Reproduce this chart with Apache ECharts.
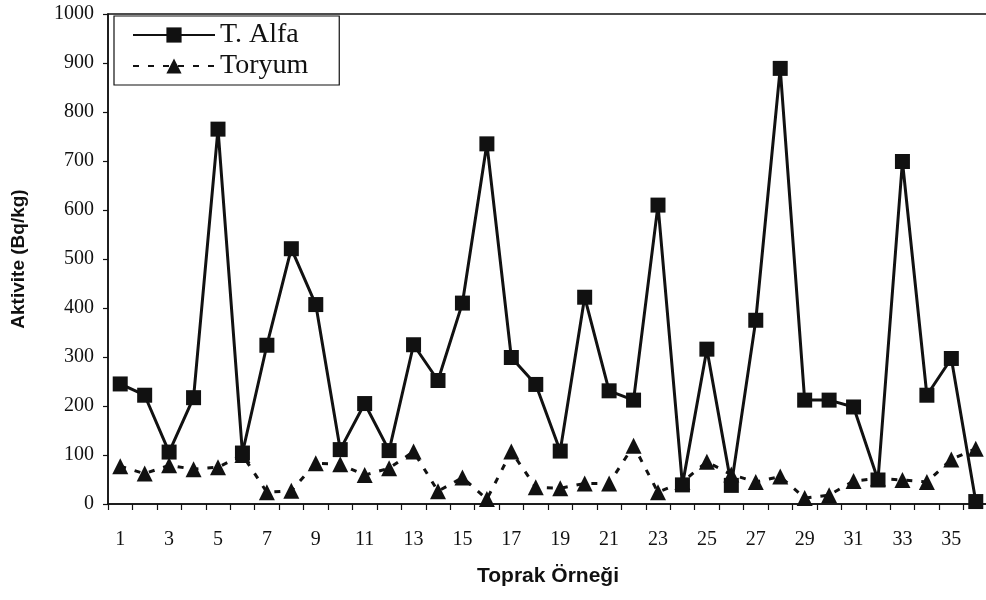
<!DOCTYPE html>
<html>
<head>
<meta charset="utf-8">
<script src="https://cdn.jsdelivr.net/npm/echarts@6/dist/echarts.min.js"></script>
<style>
  html, body { margin: 0; padding: 0; background: #fff; overflow: hidden; }
  /* a little wider than the window so the right frame edge falls just off-screen, as in the scan */
  #chart { width: 992px; height: 600px; }
</style>
</head>
<body>
<div id="chart"></div>
<script>
const samples = ['1','2','3','4','5','6','7','8','9','10','11','12','13','14','15','16','17','18',
  '19','20','21','22','23','24','25','26','27','28','29','30','31','32','33','34','35','36']
const tAlfa = [245, 222, 106, 217, 765, 104, 324, 521, 407, 111, 205, 109, 325, 252, 410, 735, 299, 244,
  108, 422, 231, 212, 610, 39, 316, 38, 375, 889, 212, 212, 198, 49, 699, 222, 297, 5]
const toryum = [77, 62, 79, 71, 75, 100, 24, 27, 83, 81, 59, 73, 107, 26, 54, 10, 107, 34,
  32, 42, 42, 119, 24, 45, 86, 60, 45, 56, 12, 18, 47, 52, 49, 45, 91, 113]

const serif = '"Liberation Serif", "Times New Roman", serif'
const sans = '"Liberation Sans", Arial, sans-serif'

const chart = echarts.init(document.getElementById('chart'), null, { renderer: 'canvas' })
chart.setOption({
  backgroundColor: '#fff',
  animation: false,
  grid: { left: 108, right: 4, top: 14, bottom: 96, show: true, borderColor: '#111', borderWidth: 1.5 },
  legend: {
    data: ['T. Alfa', 'Toryum'],
    orient: 'vertical', left: 114, top: 16,
    padding: [5, 31, 5, 18], itemGap: 3,
    itemWidth: 82, itemHeight: 19,
    borderColor: '#111', borderWidth: 1.2,
    textStyle: { fontFamily: serif, fontSize: 28, color: '#111' }
  },
  xAxis: {
    type: 'category', data: samples, boundaryGap: true,
    name: 'Toprak Örneği', nameLocation: 'middle', nameGap: 62,
    nameTextStyle: { fontFamily: sans, fontWeight: 'bold', fontSize: 21, color: '#111' },
    axisLine: { lineStyle: { color: '#111', width: 1.5 } },
    axisTick: { show: true, interval: 0, length: 6, lineStyle: { color: '#111', width: 1.2 } },
    axisLabel: { interval: 1, margin: 26, fontFamily: serif, fontSize: 20, color: '#111' },
    splitLine: { show: false }
  },
  yAxis: {
    type: 'value', min: 0, max: 1000, interval: 100,
    name: 'Aktivite (Bq/kg)', nameLocation: 'middle', nameGap: 80,
    nameTextStyle: { fontFamily: sans, fontWeight: 'bold', fontSize: 19, color: '#111' },
    axisLine: { show: true, lineStyle: { color: '#111', width: 1.5 } },
    axisTick: { show: true, length: 5, lineStyle: { color: '#111', width: 1.2 } },
    axisLabel: { margin: 14, fontFamily: serif, fontSize: 20, color: '#111', formatter: v => String(v) },
    splitLine: { show: false }
  },
  series: [
    {
      name: 'Toryum', type: 'line', data: toryum,
      symbol: 'triangle', symbolSize: 16,
      lineStyle: { color: '#111', width: 3, type: [6, 9] },
      itemStyle: { color: '#111' }
    },
    {
      name: 'T. Alfa', type: 'line', data: tAlfa,
      symbol: 'rect', symbolSize: 15,
      lineStyle: { color: '#111', width: 3 },
      itemStyle: { color: '#111' }
    }
  ]
})
window.addEventListener('resize', () => chart.resize())
</script>
</body>
</html>
